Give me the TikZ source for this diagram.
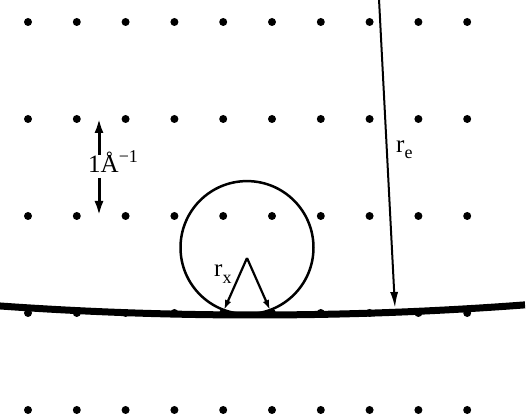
\documentclass[tikz,border=0pt]{standalone}
\usepackage{fontspec}
\setmainfont{Liberation Serif}
\usetikzlibrary{arrows.meta}
\begin{document}
\begin{tikzpicture}[x=1pt,y=1pt,
  dot/.style={fill=black,circle,inner sep=0pt,minimum size=8pt},
  lbl/.style={font=\fontsize{25}{25}\selectfont, inner sep=0pt, anchor=base west},
  bigarrow/.style={line width=3pt,-{Latex[length=15pt,width=9pt]}},
  rearrow/.style={line width=2pt,-{Latex[length=16pt,width=8pt]}},
  rxarrow/.style={line width=2.2pt,-{Latex[length=10pt,width=6.5pt]}},
]
\useasboundingbox (0,0) rectangle (531,420);
% lattice of dots
\foreach \r/\Y in {0/398,1/301,2/204,3/107,4/10} {
  \foreach \c in {0,...,9} {
    \node[dot] (d\r\c) at ({28+48.8*\c},\Y) {};
  }
}
% circle
\draw[line width=2.5pt] (247,172.4) circle (66.5);
% curved surface
\draw[line width=7pt] plot[domain=0:525,samples=80] (\x,{105+((\x-255)/10)^2/72});
% r_x arrows
\coordinate (apex) at (247,162);
\coordinate (xl) at (224,110);
\coordinate (xr) at (270,110);
\draw[rxarrow] (apex) -- (xl);
\draw[rxarrow] (apex) -- (xr);
\node[lbl] (rx) at (214,143) {r\raisebox{-7pt}{\fontsize{18}{18}\selectfont x}};
% r_e arrow
\coordinate (etop) at (379,421);
\coordinate (ebot) at (395,112);
\draw[rearrow] (etop) -- (ebot);
\node[lbl] (re) at (396,267) {r\raisebox{-6pt}{\fontsize{18}{18}\selectfont e}};
% scale bar
\coordinate (u0) at (99,265);
\coordinate (u1) at (99,302);
\coordinate (w0) at (99,242);
\coordinate (w1) at (99,204);
\draw[bigarrow] (u0) -- (u1);
\draw[bigarrow] (w0) -- (w1);
\node[lbl] (scale) at (88,247) {1Å\raisebox{10pt}{\fontsize{18}{18}\selectfont −1}};
\end{tikzpicture}
\end{document}
